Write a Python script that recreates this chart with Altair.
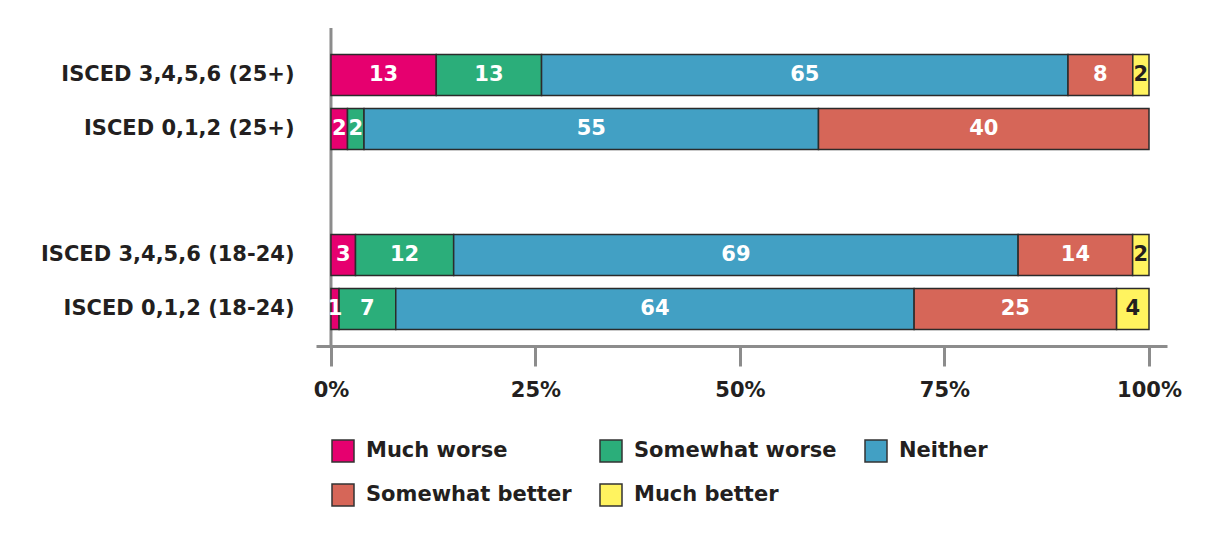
import altair as alt
import pandas as pd

rows = ["ISCED 3,4,5,6 (25+)", "ISCED 0,1,2 (25+)", "ISCED 3,4,5,6 (18-24)", "ISCED 0,1,2 (18-24)"]
groups = ["25+", "25+", "18-24", "18-24"]
categories = ["Much worse", "Somewhat worse", "Neither", "Somewhat better", "Much better"]

much_worse = [13, 2, 3, 1]
somewhat_worse = [13, 2, 12, 7]
neither = [65, 55, 69, 64]
somewhat_better = [8, 40, 14, 25]
much_better = [2, 0, 2, 4]

colors = ["#E6006F", "#2BAE7A", "#42A0C4", "#D66658", "#FFF35F"]
tick_values = [0, 0.25, 0.5, 0.75, 1]

series = [much_worse, somewhat_worse, neither, somewhat_better, much_better]
records = []
for i, r in enumerate(rows):
    for j, c in enumerate(categories):
        v = series[j][i]
        if v > 0:
            records.append({"row": r, "group": groups[i], "cat": c, "order": j, "value": v})
df = pd.DataFrame(records)

FONT = "DejaVu Sans"
INK = "#231F20"
GREY = "#8C8C8C"

xscale = alt.Scale(domain=[-0.0183, 1.022], nice=False, zero=False)
color_scale = alt.Scale(domain=categories, range=colors)


def panel(grp, height, pad_outer, align, show_x):
    sub = df[df.group == grp]
    order_rows = [r for r, g in zip(rows, groups) if g == grp]
    base = alt.Chart(sub).transform_stack(
        stack="value", groupby=["row"], sort=[alt.SortField("order")],
        as_=["x0", "x1"], offset="normalize"
    ).transform_calculate(mid="(datum.x0 + datum.x1) / 2")

    yscale = alt.Scale(paddingInner=0.24, paddingOuter=pad_outer, align=align)
    yaxis = alt.Axis(title=None, domain=False, ticks=False, labelFontSize=21,
                     labelFont=FONT, labelFontWeight="bold", labelColor=INK,
                     labelPadding=22, labelLimit=400)
    if show_x:
        xaxis = alt.Axis(values=tick_values, format=".0%", tickSize=20, tickWidth=3,
                         tickColor=GREY, domainColor=GREY, domainWidth=3,
                         labelFontSize=21, labelFont=FONT, labelFontWeight="bold",
                         labelColor=INK, labelPadding=13, grid=False, title=None)
    else:
        xaxis = None

    rule = alt.Chart(pd.DataFrame({"v": [0]})).mark_rule(color=GREY, strokeWidth=3).encode(
        x=alt.X("v:Q", scale=xscale, axis=xaxis)
    )
    bars = base.mark_bar(stroke="#2B2B2B", strokeWidth=1.5).encode(
        x=alt.X("x0:Q", scale=xscale, axis=xaxis),
        x2="x1:Q",
        y=alt.Y("row:N", sort=order_rows, scale=yscale, axis=yaxis),
        color=alt.Color("cat:N", scale=color_scale, legend=alt.Legend(
            orient="none", legendX=15, legendY=411, direction="horizontal", columns=3,
            title=None, symbolType="square", symbolSize=484, symbolStrokeColor="#333333",
            symbolStrokeWidth=1.5, symbolOpacity=1, labelFontSize=21, labelFont=FONT,
            labelFontWeight="bold", labelColor=INK, columnPadding=25, rowPadding=16,
            labelOffset=11, labelLimit=400)),
    )
    text = base.mark_text(font=FONT, fontWeight="bold", fontSize=21).encode(
        x=alt.X("mid:Q", scale=xscale),
        y=alt.Y("row:N", sort=order_rows),
        text="value:Q",
        color=alt.condition(alt.datum.cat == "Much better", alt.value(INK), alt.value("white")),
    )
    return alt.layer(rule, bars, text).properties(width=851, height=height)


top = panel("25+", 148, 0.49, 0.5, False)
bottom = panel("18-24", 170, 0.694, 0.78, True)

chart = alt.vconcat(top, bottom, spacing=0, bounds="flush").properties(
    padding={"left": 32, "top": 18, "right": 10, "bottom": 10}
).configure(
    background="white", view=alt.ViewConfig(stroke="transparent", strokeWidth=0)
)

chart.save("out.html", embed_options={"renderer": "svg", "actions": False})
